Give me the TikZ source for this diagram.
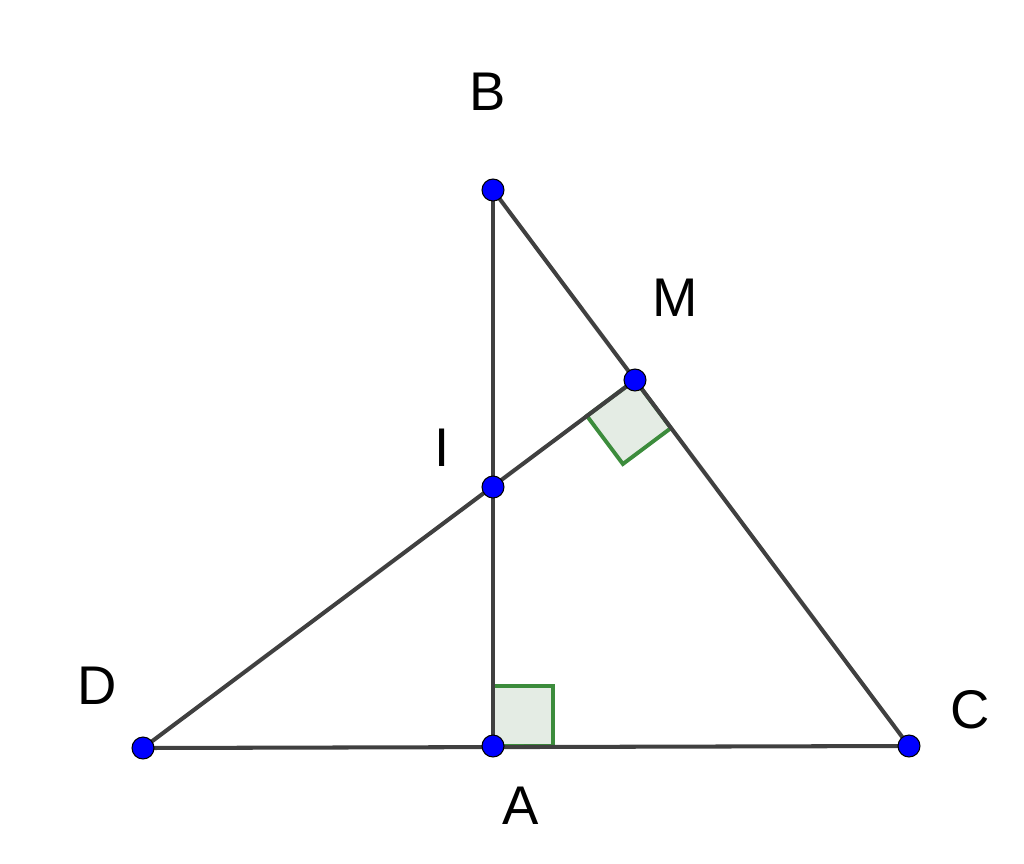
\documentclass[tikz,border=0pt]{standalone}
\usepackage{fontspec}
\setmainfont{Liberation Sans}
\definecolor{segcol}{HTML}{404040}
\definecolor{angfill}{HTML}{E4ECE4}
\definecolor{angdraw}{HTML}{3C8C3C}
\begin{document}
\begin{tikzpicture}[x=0.02cm,y=-0.02cm,
  seg/.style={draw=segcol,line width=2.3pt},
  ang/.style={fill=angfill,draw=angdraw,line width=2.2pt,line join=miter},
  pt/.style={circle,fill=blue,draw=black,line width=0.6pt,inner sep=0pt,minimum size=12.5pt},
  lbl/.style={font=\fontsize{31}{31}\selectfont,inner sep=0pt}]
\useasboundingbox (0,0) rectangle (1024,863);
\coordinate (B) at (493,190);
\coordinate (M) at (635,380);
\coordinate (I) at (493,487);
\coordinate (D) at (143,748);
\coordinate (A) at (493,746);
\coordinate (C) at (909,746);
% right angle marks
\path[ang] (A) -- (493,686) -- (553,686) -- (553,746) -- cycle;
\path[ang] (M) -- (586.9,415.9) -- (622.9,464.0) -- (670.9,428.1) -- cycle;
% segments
\draw[seg] (B) -- (A);
\draw[seg] (B) -- (C);
\draw[seg] (D) -- (C);
\draw[seg] (D) -- (M);
% points
\node[pt] (pB) at (B) {};
\node[pt] (pM) at (M) {};
\node[pt] (pI) at (I) {};
\node[pt] (pD) at (D) {};
\node[pt] (pA) at (A) {};
\node[pt] (pC) at (C) {};
% labels
\node[lbl] (lB) at (488,92) {B};
\node[lbl] (lM) at (675,298) {M};
\node[lbl] (lI) at (442,448) {I};
\node[lbl] (lD) at (97,686) {D};
\node[lbl] (lC) at (970,710) {C};
\node[lbl] (lA) at (521,806) {A};
\end{tikzpicture}
\end{document}
